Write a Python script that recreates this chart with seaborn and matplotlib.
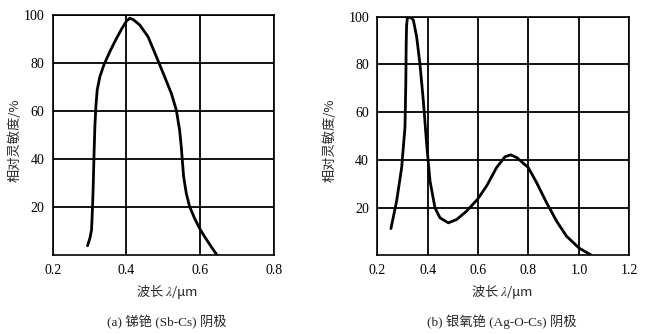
import matplotlib
matplotlib.use("Agg")
import matplotlib.pyplot as plt
import seaborn as sns
import pandas as pd

# Spectral response of Sb-Cs photocathode
wl_a = [0.2946, 0.3009, 0.3054, 0.3081, 0.3099, 0.3117, 0.3144, 0.3171, 0.3207,
        0.3279, 0.3387, 0.3550, 0.3730, 0.3865, 0.4000, 0.4090, 0.4180, 0.4360,
        0.4586, 0.4811, 0.5036, 0.5216, 0.5351, 0.5441, 0.5486, 0.5514, 0.5550,
        0.5622, 0.5712, 0.5847, 0.5982, 0.6117, 0.6297, 0.6460]
sens_a = [4.0, 7.1, 10.6, 20.3, 28.6, 39.7, 53.6, 61.9, 68.9,
          74.4, 79.3, 84.9, 90.4, 94.2, 97.6, 98.8, 98.3, 96.0,
          91.1, 82.8, 74.4, 67.5, 60.6, 52.2, 45.3, 39.7, 32.8,
          25.8, 20.3, 15.4, 11.25, 7.8, 3.6, 0.0]

# Spectral response of Ag-O-Cs photocathode
wl_b = [0.254, 0.2767, 0.2966, 0.3098, 0.3130, 0.3145, 0.3160, 0.3190, 0.3296,
        0.343, 0.356, 0.369, 0.3825, 0.3958, 0.409, 0.4288, 0.4487, 0.4818,
        0.5148, 0.554, 0.598, 0.634, 0.6735, 0.7066, 0.729, 0.753, 0.799,
        0.832, 0.872, 0.9116, 0.951, 1.0, 1.05]
sens_b = [11.2, 22.8, 36.8, 53.7, 71.9, 88.0, 96.0, 99.3, 100.0,
          98.6, 91.6, 80.3, 64.9, 46.6, 31.2, 19.9, 15.7, 13.6,
          15.0, 18.5, 23.5, 29.1, 36.8, 41.3, 42.1, 41.0, 36.8,
          30.5, 22.0, 14.3, 8.0, 3.1, 0.0]

xticks_a = [0.2, 0.4, 0.6, 0.8]
xticks_b = [0.2, 0.4, 0.6, 0.8, 1.0, 1.2]
yticks = [20, 40, 60, 80, 100]

ylabel = "相对灵敏度/%"
xlabel = "波长 $\\lambda$/μm"
caption_a = "(a) 锑铯 (Sb-Cs) 阴极"
caption_b = "(b) 银氧铯 (Ag-O-Cs) 阴极"

sns.set_theme(style="white")
plt.rcParams["mathtext.fontset"] = "stix"
plt.rcParams["font.family"] = ["Liberation Serif", "Noto Sans CJK SC"]

fig = plt.figure(figsize=(6.47, 3.34), dpi=100)
ax_a = fig.add_axes([0.0814, 0.2356, 0.4235 - 0.0814, 0.954 - 0.2356])
ax_b = fig.add_axes([0.5832, 0.2356, 0.9726 - 0.5832, 0.950 - 0.2356])

panels = [
    (ax_a, wl_a, sens_a, (0.2, 0.8), xticks_a, caption_a, 0.258),
    (ax_b, wl_b, sens_b, (0.2, 1.2), xticks_b, caption_b, 0.7755),
]

for ax, wl, sens, xlim, xt, cap, cx in panels:
    df = pd.DataFrame({"wl": wl, "s": sens})
    sns.lineplot(data=df, x="wl", y="s", ax=ax, sort=False, estimator=None,
                 color="black", linewidth=2.0, zorder=3)
    ax.set_xlim(*xlim)
    ax.set_ylim(0, 100)
    ax.set_xticks(xt)
    ax.set_xticklabels([f"{v:.1f}" for v in xt])
    ax.set_yticks(yticks)
    ax.set_yticklabels([str(v) for v in yticks])
    ax.grid(True, color="black", linewidth=1.3)
    ax.tick_params(axis="both", length=0, labelsize=10, colors="black", pad=6)
    for lab in ax.get_xticklabels() + ax.get_yticklabels():
        lab.set_fontfamily("Liberation Serif")
    for sp in ax.spines.values():
        sp.set_color("black")
        sp.set_linewidth(1.2)
    ax.set_xlabel("")
    ax.set_ylabel("")
    fig.text(cx, 1 - 292 / 334, xlabel, ha="center", va="center",
             fontsize=9.5, family="Noto Sans CJK SC")
    fig.text(cx, 1 - 322 / 334, cap, ha="center", va="center",
             fontsize=9.5, family=["Liberation Serif", "Noto Sans CJK SC"])

fig.text(15 / 647, 1 - 140 / 334, ylabel, rotation=90, ha="center", va="center",
         fontsize=9.5, family=["Noto Sans CJK SC", "DejaVu Sans"])
fig.text(330 / 647, 1 - 140 / 334, ylabel, rotation=90, ha="center", va="center",
         fontsize=9.5, family=["Noto Sans CJK SC", "DejaVu Sans"])

fig.savefig("out.png", dpi=100)
